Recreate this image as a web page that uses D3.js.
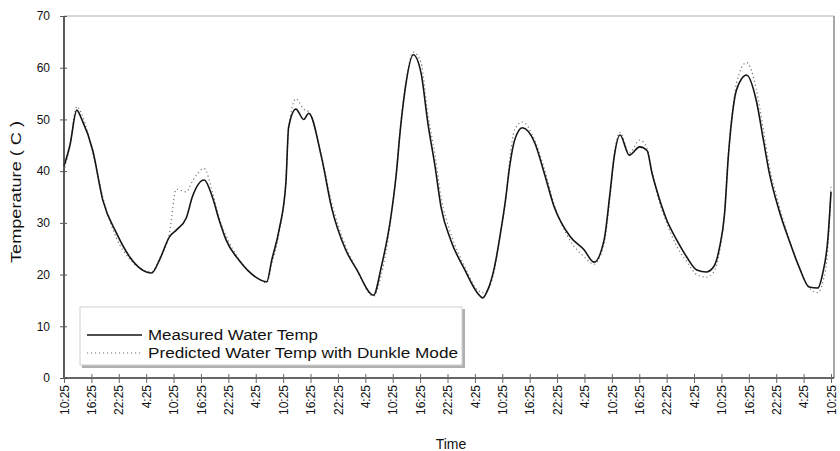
<html><head>
<script src="https://d3js.org/d3.v7.min.js"></script>
<style>
  body { margin: 0; background: #fff; }
  text { font-family: "Liberation Sans", Arial, sans-serif; fill: #111; }
</style>
</head>
<body>
<div id="container"></div>
<script>

// Hours since the first 10:25 reading
const hours = [0, 1.3, 2.8, 3.9, 6.3, 8.5, 11.5, 14.4, 19.2, 20.9, 23.1, 24.6, 26.8, 28.1, 30.7, 32.5,
  34.0, 35.5, 38.3, 42.0, 44.4, 45.5, 47.1, 48.6, 49.2, 50.8, 52.5, 53.6, 56.4, 58.6, 61.7, 64.1,
  67.8, 69.5, 71.5, 72.8, 73.6, 74.7, 76.5, 78.2, 79.7, 81.3, 82.6, 84.7, 87.8, 90.6, 91.7, 92.8,
  94.3, 95.6, 96.7, 97.6, 98.7, 100.4, 103.1, 105.2, 107.4, 110.9, 113.9, 116.1, 118.3, 119.6, 120.5,
  121.8, 123.8, 126.1, 127.7, 128.8, 129.8, 132.0, 134.2, 136.4, 138.6, 140.7, 142.3, 143.6, 144.7,
  145.5, 146.6, 147.3, 149.5, 151.6, 153.2, 154.5, 156.6, 158.8, 161.0, 163.2, 165.1, 166.2, 167.3, 168];

const measured = [41, 45, 51.8, 50, 44, 34.4, 28, 23.4, 20.3, 22.8, 27.3, 28.6, 31, 35, 38.3, 35,
  30.5, 26.7, 22.8, 19.5, 18.6, 22.8, 28.6, 37.7, 48.5, 52, 50, 51.2, 42.7, 33, 24.8, 21,
  16, 21.5, 30.6, 39.6, 47.4, 55.7, 62.5, 59, 49.3, 40.8, 33, 26.7, 20.9, 16.4, 15.5, 17,
  21.5, 28, 34.4, 40.8, 46, 48.4, 45.5, 39.6, 33, 27.3, 24.8, 22.4, 26.7, 35.8, 42.7,
  47, 43.1, 44.7, 44, 39.6, 36.4, 30.6, 26.7, 23.4, 20.9, 20.5, 21.5, 25.3, 31.9,
  42.7, 52.4, 55.7, 58.6, 53.8, 46, 39.6, 32.5, 26.7, 21.5, 17.6, 17.4, 20.3, 26.7, 36];

const predicted = [40, 45, 52.5, 51, 43.5, 35, 27, 23, 20.5, 23, 28, 36.5, 36, 38, 40.5, 36,
  31, 27.5, 23, 19.5, 18.4, 22, 28, 38, 48, 54, 52, 51.5, 43, 34, 25.5, 21,
  15.8, 20, 30, 40, 48, 56, 63, 61, 51, 43, 35, 28, 21.5, 17, 16.5, 17,
  21, 28, 34, 42, 48, 49.5, 46, 40.5, 33.5, 26.5, 23.5, 22, 26, 35, 43,
  47.5, 43.5, 46, 44.5, 40, 36, 30, 25.5, 22.5, 20, 19.5, 20.5, 24.5, 32,
  43, 53, 57, 61, 56, 48, 41, 33.5, 27, 21.5, 17.5, 16.5, 18.5, 25, 37];

const tickLabels = ["10:25", "16:25", "22:25", "4:25"];
const yTicks = [0, 10, 20, 30, 40, 50, 60, 70];
const seriesNames = ["Measured Water Temp", "Predicted Water Temp with Dunkle Mode"];

const width = 840, height = 451;
const margin = { top: 16, right: 9, bottom: 73, left: 64 };

const svg = d3.select("#container").append("svg")
  .attr("width", width)
  .attr("height", height);

const xScale = d3.scaleLinear().domain([0, 168]).range([margin.left, width - margin.right]);
const yScale = d3.scaleLinear().domain([0, 70]).range([height - margin.bottom, margin.top]);

// plot frame (light gray top and right)
svg.append("line")
  .attr("x1", margin.left).attr("x2", xScale(168) + 3)
  .attr("y1", yScale(70)).attr("y2", yScale(70))
  .attr("stroke", "#c8c8c8").attr("stroke-width", 1.5);
svg.append("line")
  .attr("x1", xScale(168) + 3).attr("x2", xScale(168) + 3)
  .attr("y1", yScale(70)).attr("y2", yScale(0))
  .attr("stroke", "#a8a8a8").attr("stroke-width", 2);

// data lines
const line = (vals) => d3.line()
  .x((d, i) => xScale(hours[i]))
  .y(d => yScale(d))
  .curve(d3.curveMonotoneX)(vals);

svg.append("path")
  .attr("d", line(predicted))
  .attr("fill", "none")
  .attr("stroke", "#777")
  .attr("stroke-width", 1.2)
  .attr("stroke-dasharray", "1.2,2.8");

svg.append("path")
  .attr("d", line(measured))
  .attr("fill", "none")
  .attr("stroke", "#151515")
  .attr("stroke-width", 1.6);

// y axis
const yAxis = d3.axisLeft(yScale).tickValues(yTicks).tickSize(4).tickPadding(10);
const yAxisArea = svg.append("g").attr("transform", "translate(" + margin.left + ",0)").call(yAxis);
yAxisArea.select(".domain").attr("stroke", "#333").attr("stroke-width", 1.6).attr("d", "M0," + yScale(70) + "V" + yScale(0));
yAxisArea.selectAll(".tick line").attr("x2", -4).attr("x1", 3).attr("stroke", "#555");
yAxisArea.selectAll(".tick text")
  .style("font-family", "'Liberation Sans', Arial, sans-serif")
  .style("font-size", "12px").attr("fill", "#111");

// x axis
const xTicks = d3.range(0, 169, 6);
const xAxis = d3.axisBottom(xScale).tickValues(xTicks).tickSize(5)
  .tickFormat((d, i) => tickLabels[i % 4]);
const xAxisArea = svg.append("g").attr("transform", "translate(0," + yScale(0) + ")").call(xAxis);
xAxisArea.select(".domain").attr("stroke", "#333").attr("stroke-width", 1.6).attr("d", "M" + margin.left + ",0H" + (xScale(168) + 3));
xAxisArea.selectAll(".tick line").attr("y1", -4).attr("y2", 5).attr("stroke", "#666");
xAxisArea.selectAll(".tick text")
  .style("font-family", "'Liberation Sans', Arial, sans-serif")
  .style("font-size", "12px").attr("fill", "#111")
  .attr("text-anchor", "end")
  .attr("transform", "rotate(-90)")
  .attr("x", -7).attr("y", 0).attr("dy", "0.35em");

// axis titles
svg.append("text")
  .attr("transform", "translate(21," + 192 + ") rotate(-90)")
  .attr("text-anchor", "middle")
  .style("font-size", "15px")
  .attr("textLength", 142).attr("lengthAdjust", "spacingAndGlyphs")
  .text("Temperature ( C )");

svg.append("text")
  .attr("x", 451).attr("y", 449)
  .attr("text-anchor", "middle")
  .style("font-size", "14px")
  .text("Time");

// legend
const legend = svg.append("g");
legend.append("rect")
  .attr("x", 82).attr("y", 309).attr("width", 383).attr("height", 59)
  .attr("fill", "#b0b0b0");
legend.append("rect")
  .attr("x", 80).attr("y", 307).attr("width", 382).attr("height", 58)
  .attr("fill", "#fff").attr("stroke", "#d0d0d0").attr("stroke-width", 1);

legend.append("line")
  .attr("x1", 87).attr("x2", 142).attr("y1", 335).attr("y2", 335)
  .attr("stroke", "#151515").attr("stroke-width", 1.6);
legend.append("line")
  .attr("x1", 87).attr("x2", 142).attr("y1", 353).attr("y2", 353)
  .attr("stroke", "#777").attr("stroke-width", 1.2).attr("stroke-dasharray", "1.2,2.8");

legend.append("text")
  .attr("x", 148).attr("y", 340)
  .style("font-size", "14px")
  .attr("textLength", 170).attr("lengthAdjust", "spacingAndGlyphs")
  .text(seriesNames[0]);
legend.append("text")
  .attr("x", 148).attr("y", 358)
  .style("font-size", "14px")
  .attr("textLength", 310).attr("lengthAdjust", "spacingAndGlyphs")
  .text(seriesNames[1]);

</script>
</body>
</html>
